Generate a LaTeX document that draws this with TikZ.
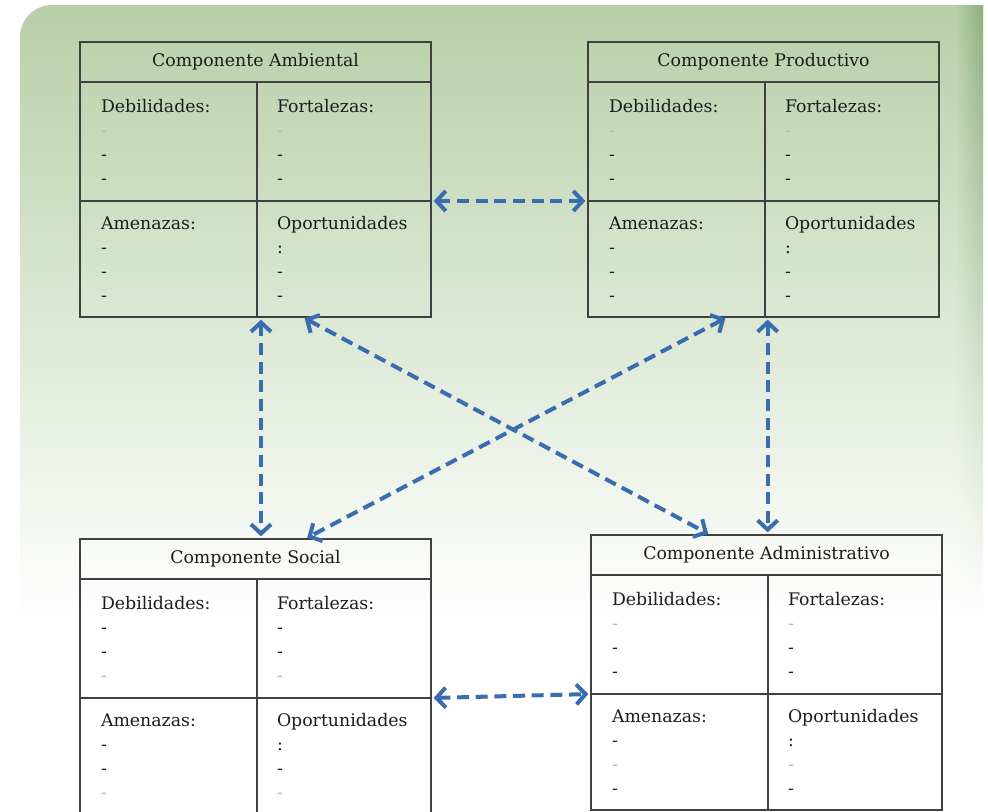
\documentclass[tikz,border=0pt]{standalone}
\usepackage{fontspec}
\setmainfont{DejaVu Serif}
\usetikzlibrary{arrows.meta,fadings}

\definecolor{bgtop}{RGB}{184,207,168}
\definecolor{bgmid}{RGB}{219,231,211}
\definecolor{bgedge}{RGB}{140,176,122}
\definecolor{boxline}{RGB}{64,64,64}
\definecolor{ink}{RGB}{28,28,28}
\definecolor{faintgray}{RGB}{185,185,185}
\definecolor{linkblue}{RGB}{58,108,176}

\newcommand{\fd}{\textcolor{faintgray}{-}}

\tikzfading[name=edgefade, left color=transparent!100, right color=transparent!0]

\tikzset{every picture/.style={line width=0.75pt}}
\tikzset{
  swottitle/.style={draw=boxline, line width=1.4pt, outer sep=0pt, inner sep=0pt,
    minimum width=263.25pt, minimum height=30pt, text=ink,
    font=\fontsize{13}{18}\selectfont, anchor=north west},
  swotcell/.style={draw=boxline, line width=1.4pt, outer sep=0pt, inner ysep=0pt,
    minimum height=89.25pt, align=left, text=ink,
    font=\fontsize{13}{18}\selectfont, anchor=north west},
  leftcell/.style={swotcell, inner xsep=15.75pt, text width=101.25pt},
  rightcell/.style={swotcell, inner xsep=15pt, text width=100.5pt},
  lowrow/.style={minimum height=87pt},
  link/.style={draw=linkblue, line width=3pt, dash pattern=on 9pt off 5pt,
    >={Straight Barb[length=7pt,width=15pt]}, <->,
    shorten <=2pt, shorten >=2pt}
}

\begin{document}
\begin{tikzpicture}[x=0.75pt,y=0.75pt,yscale=-1,xscale=1]
\useasboundingbox (0,0) rectangle (988,811);

%Shape: Background panel
\fill[white] (0,0) rectangle (988,811);
\shade[top color=bgtop, bottom color=white, middle color=bgmid]
  (20,620) [rounded corners=24pt] -- (20,5) [sharp corners] -- (983,5) -- (983,620) -- cycle;
\shade[top color=bgedge, bottom color=white, path fading=edgefade] (956,5) rectangle (983,620);

% Componente Ambiental
\node[swottitle] (ambT) at (80,42) {Componente Ambiental};
\node[leftcell] (ambD) at (ambT.south west) {Debilidades:\\\fd\\-\\-};
\node[rightcell] (ambF) at (ambD.north east) {Fortalezas:\\\fd\\-\\-};
\node[leftcell, lowrow] (ambA) at (ambD.south west) {Amenazas:\\-\\-\\-};
\node[rightcell, lowrow] (ambO) at (ambA.north east) {Oportunidades\\:\\-\\-};

% Componente Productivo
\node[swottitle] (prodT) at (588,42) {Componente Productivo};
\node[leftcell] (prodD) at (prodT.south west) {Debilidades:\\\fd\\-\\-};
\node[rightcell] (prodF) at (prodD.north east) {Fortalezas:\\\fd\\-\\-};
\node[leftcell, lowrow] (prodA) at (prodD.south west) {Amenazas:\\-\\-\\-};
\node[rightcell, lowrow] (prodO) at (prodA.north east) {Oportunidades\\:\\-\\-};

% Componente Social
\node[swottitle] (socT) at (80,539) {Componente Social};
\node[leftcell] (socD) at (socT.south west) {Debilidades:\\-\\-\\\fd};
\node[rightcell] (socF) at (socD.north east) {Fortalezas:\\-\\-\\\fd};
\node[leftcell, lowrow] (socA) at (socD.south west) {Amenazas:\\-\\-\\\fd};
\node[rightcell, lowrow] (socO) at (socA.north east) {Oportunidades\\:\\-\\\fd};

% Componente Administrativo
\node[swottitle] (admT) at (591,535) {Componente Administrativo};
\node[leftcell] (admD) at (admT.south west) {Debilidades:\\\fd\\-\\-};
\node[rightcell] (admF) at (admD.north east) {Fortalezas:\\\fd\\-\\-};
\node[leftcell, lowrow] (admA) at (admD.south west) {Amenazas:\\-\\\fd\\-};
\node[rightcell, lowrow] (admO) at (admA.north east) {Oportunidades\\:\\\fd\\-};

% Arrows
\coordinate (ambV) at ([xshift=3pt]ambA.south east);
\coordinate (prodV) at ([xshift=2pt]prodA.south east);
\draw[link] (ambF.south east) -- (prodD.south west);
\draw[link] (socF.south east) -- (admD.south west);
\draw[link] (ambV) -- (ambV |- socT.north);
\draw[link] (prodV) -- (prodV |- admT.north);
\draw[link] ([xshift=34pt]ambO.south west) -- ([xshift=-42pt]admT.north);
\draw[link] ([xshift=-28pt]prodA.south east) -- ([xshift=37pt]socT.north);

\end{tikzpicture}
\end{document}
